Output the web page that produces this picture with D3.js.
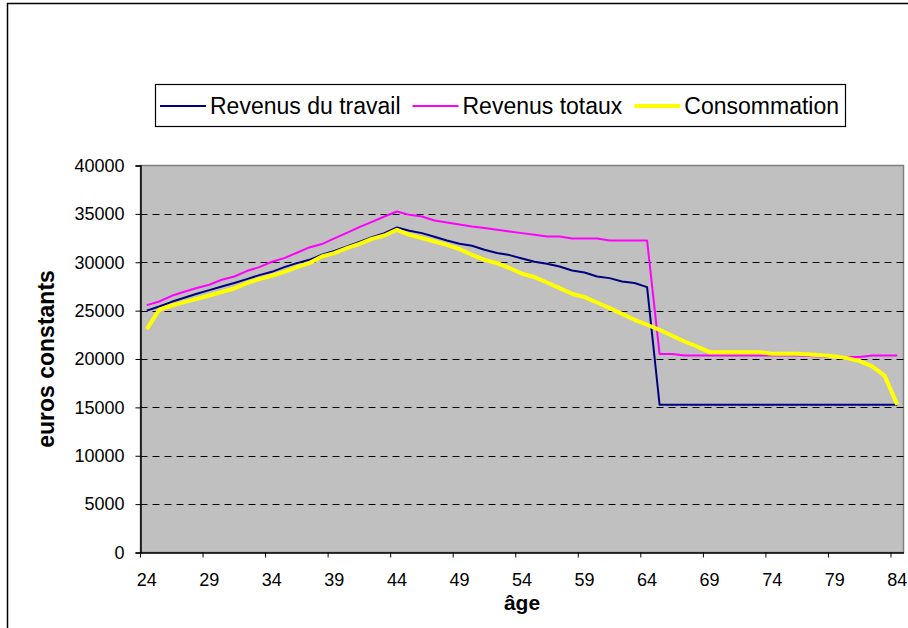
<!DOCTYPE html>
<html>
  <head>
    <meta charset="utf-8">
    <script src="https://d3js.org/d3.v7.min.js"></script>
    <style>
      body { margin: 0; background: #fff; }
      svg { display: block; font-family: "Liberation Sans", Arial, sans-serif; }
    </style>
  </head>
  <body>
    <div id="container"></div>
    <script>
    // categories (age)
    const ages = [24,25,26,27,28,29,30,31,32,33,34,35,36,37,38,39,40,41,42,43,44,
                  45,46,47,48,49,50,51,52,53,54,55,56,57,58,59,60,61,62,63,64,
                  65,66,67,68,69,70,71,72,73,74,75,76,77,78,79,80,81,82,83,84];
    const tickAges = [24,29,34,39,44,49,54,59,64,69,74,79,84];
    const yTicks = [0,5000,10000,15000,20000,25000,30000,35000,40000];

    const revenusTravail = [25000,25430,25910,26330,26740,27120,27490,27850,28260,28670,29010,
      29500,29910,30250,30770,31180,31630,32110,32600,33010,33590,
      33250,33010,32630,32250,31910,31700,31290,30950,30740,30390,
      30050,29840,29560,29150,28940,28530,28360,28010,27850,27430,
      15270,15270,15270,15270,15270,15270,15270,15270,15270,15270,
      15270,15270,15270,15270,15270,15270,15270,15270,15270,15270];
    const revenusTotaux = [25570,25940,26530,26950,27330,27670,28190,28530,29090,29500,30050,
      30430,30980,31530,31880,32460,33040,33630,34180,34730,35250,
      34900,34730,34320,34110,33900,33700,33530,33350,33180,33010,
      32840,32660,32660,32460,32460,32460,32250,32250,32250,32250,
      20510,20510,20360,20360,20360,20360,20360,20360,20360,20360,
      20360,20360,20300,20250,20200,20200,20200,20360,20360,20360];
    const consommation = [23090,25090,25530,25880,26220,26560,26920,27290,27850,28260,28600,
      29010,29500,29910,30600,30950,31460,31910,32420,32770,33350,
      32840,32500,32150,31800,31360,30770,30250,29910,29400,28810,
      28470,27910,27330,26740,26400,25840,25260,24670,24050,23540,
      23020,22400,21810,21290,20710,20710,20710,20710,20710,20540,
      20540,20540,20470,20400,20260,20090,19780,19230,18260,15270];

    const seriesNames = ['Revenus du travail', 'Revenus totaux', 'Consommation'];
    const seriesColors = ['#000080', '#ff00ff', '#ffff00'];
    const seriesWidths = [2, 2, 4];
    const seriesData = [revenusTravail, revenusTotaux, consommation];

    const w = 908, h = 628;
    const plot = { left: 140.5, right: 903.5, top: 165.5, bottom: 552.5 };

    const svg = d3.select('#container').append('svg')
      .attr('width', w).attr('height', h);

    // outer chart border
    svg.append('rect')
      .attr('x', 7.5).attr('y', 3.5)
      .attr('width', 1000).attr('height', 1000)
      .attr('fill', '#fff').attr('stroke', '#000').attr('stroke-width', 1.5);

    const xScale = d3.scaleBand()
      .domain(ages)
      .range([plot.left, plot.right])
      .padding(0);
    const bw = xScale.bandwidth();

    const yScale = d3.scaleLinear()
      .domain([0, 40000])
      .range([plot.bottom, plot.top]);

    // plot area
    svg.append('rect')
      .attr('x', plot.left).attr('y', plot.top)
      .attr('width', plot.right - plot.left).attr('height', plot.bottom - plot.top)
      .attr('fill', '#c0c0c0').attr('stroke', '#808080').attr('stroke-width', 1.5);

    // gridlines
    svg.append('g')
      .selectAll('line')
      .data(yTicks.filter(d => d > 0 && d < 40000))
      .enter()
      .append('line')
      .attr('x1', plot.left).attr('x2', plot.right)
      .attr('y1', d => Math.round(yScale(d)) + 0.5)
      .attr('y2', d => Math.round(yScale(d)) + 0.5)
      .attr('stroke', '#000').attr('stroke-width', 1)
      .attr('stroke-dasharray', '7,5');

    // y axis
    const yAxis = d3.axisLeft(yScale)
      .tickValues(yTicks)
      .tickSize(5)
      .tickPadding(11)
      .tickFormat(d3.format('d'));
    const gy = svg.append('g')
      .attr('transform', `translate(${plot.left},0)`)
      .call(yAxis);
    gy.select('.domain').attr('stroke', '#000').attr('stroke-width', 1.5);
    gy.selectAll('.tick line').attr('stroke', '#000');
    gy.selectAll('.tick text')
      .attr('font-size', 18).attr('fill', '#000')
      .attr('font-family', '"Liberation Sans", Arial, sans-serif');

    // x axis: ticks at category boundaries, labels centred on category
    const xAxis = d3.axisBottom(xScale)
      .tickValues(tickAges)
      .tickSize(5)
      .tickSizeOuter(0);
    const gx = svg.append('g')
      .attr('transform', `translate(0,${plot.bottom})`)
      .call(xAxis);
    gx.select('.domain').attr('stroke', '#000').attr('stroke-width', 1.5);
    gx.selectAll('.tick line')
      .attr('x1', -bw / 2).attr('x2', -bw / 2)
      .attr('stroke', '#000');
    gx.selectAll('.tick text')
      .attr('y', 33).attr('dy', 0)
      .attr('font-size', 18).attr('fill', '#000')
      .attr('font-family', '"Liberation Sans", Arial, sans-serif');

    // lines
    const line = d3.line()
      .x((d, i) => xScale(ages[i]) + bw / 2)
      .y(d => yScale(d));

    seriesData.forEach((s, i) => {
      svg.append('path')
        .datum(s)
        .attr('fill', 'none')
        .attr('stroke', seriesColors[i])
        .attr('stroke-width', seriesWidths[i])
        .attr('stroke-linejoin', 'round')
        .attr('d', line);
    });

    // axis titles
    svg.append('text')
      .attr('x', (plot.left + plot.right) / 2)
      .attr('y', 610)
      .attr('text-anchor', 'middle')
      .attr('font-size', 21).attr('font-weight', 'bold')
      .text('âge');

    svg.append('text')
      .attr('transform', `translate(53.5,${(plot.top + plot.bottom) / 2}) rotate(-90)`)
      .attr('text-anchor', 'middle')
      .attr('font-size', 23).attr('font-weight', 'bold')
      .text('euros constants');

    // legend
    const legend = svg.append('g');
    legend.append('rect')
      .attr('x', 155.5).attr('y', 84.5)
      .attr('width', 690).attr('height', 42)
      .attr('fill', '#fff').attr('stroke', '#000').attr('stroke-width', 1.2);

    let lx = 160;
    seriesNames.forEach((name, i) => {
      legend.append('line')
        .attr('x1', lx).attr('x2', lx + 46)
        .attr('y1', 106).attr('y2', 106)
        .attr('stroke', seriesColors[i])
        .attr('stroke-width', seriesWidths[i]);
      const t = legend.append('text')
        .attr('x', lx + 50).attr('y', 113.5)
        .attr('font-size', 23)
        .text(name);
      lx = lx + 50 + t.node().getComputedTextLength() + 12;
    });
    </script>
  </body>
</html>
